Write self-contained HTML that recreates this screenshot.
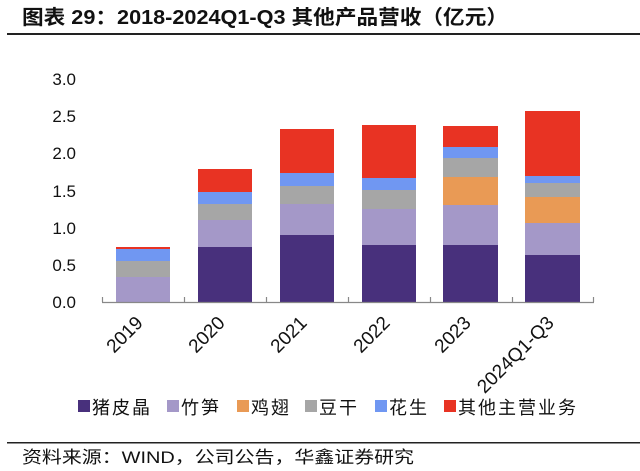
<!DOCTYPE html>
<html><head><meta charset="utf-8"><style>
body{margin:0;background:#fff;}
svg{display:block;font-family:"Liberation Sans","Noto Sans CJK SC",sans-serif;}
</style></head><body>
<svg width="640" height="471" viewBox="0 0 640 471">
<text x="22" y="24" font-size="20" font-weight="bold" fill="#111" textLength="486" lengthAdjust="spacingAndGlyphs">图表 29：2018-2024Q1-Q3 其他产品营收（亿元）</text>
<rect x="7" y="33" width="633" height="2" fill="#222"/>
<g font-size="17" fill="#111" text-anchor="end">
<text x="76" y="85">3.0</text><text x="76" y="122">2.5</text><text x="76" y="159">2.0</text>
<text x="76" y="197">1.5</text><text x="76" y="234">1.0</text><text x="76" y="271">0.5</text><text x="76" y="308">0.0</text>
</g>
<!-- 2019 -->
<rect x="116" y="277" width="54" height="25" fill="#a498c8"/>
<rect x="116" y="261" width="54" height="16" fill="#a6a6a6"/>
<rect x="116" y="249" width="54" height="12" fill="#7097f2"/>
<rect x="116" y="247" width="54" height="2" fill="#e83323"/>
<!-- 2020 -->
<rect x="198" y="247" width="54" height="55" fill="#48307c"/>
<rect x="198" y="220" width="54" height="27" fill="#a498c8"/>
<rect x="198" y="204" width="54" height="16" fill="#a6a6a6"/>
<rect x="198" y="192" width="54" height="12" fill="#7097f2"/>
<rect x="198" y="169" width="54" height="23" fill="#e83323"/>
<!-- 2021 -->
<rect x="280" y="235" width="54" height="67" fill="#48307c"/>
<rect x="280" y="204" width="54" height="31" fill="#a498c8"/>
<rect x="280" y="186" width="54" height="18" fill="#a6a6a6"/>
<rect x="280" y="173" width="54" height="13" fill="#7097f2"/>
<rect x="280" y="129" width="54" height="44" fill="#e83323"/>
<!-- 2022 -->
<rect x="362" y="245" width="54" height="57" fill="#48307c"/>
<rect x="362" y="209" width="54" height="36" fill="#a498c8"/>
<rect x="362" y="190" width="54" height="19" fill="#a6a6a6"/>
<rect x="362" y="178" width="54" height="12" fill="#7097f2"/>
<rect x="362" y="125" width="54" height="53" fill="#e83323"/>
<!-- 2023 -->
<rect x="443" y="245" width="55" height="57" fill="#48307c"/>
<rect x="443" y="205" width="55" height="40" fill="#a498c8"/>
<rect x="443" y="177" width="55" height="28" fill="#e99a55"/>
<rect x="443" y="158" width="55" height="19" fill="#a6a6a6"/>
<rect x="443" y="147" width="55" height="11" fill="#7097f2"/>
<rect x="443" y="126" width="55" height="21" fill="#e83323"/>
<!-- 2024 -->
<rect x="525" y="255" width="55" height="47" fill="#48307c"/>
<rect x="525" y="223" width="55" height="32" fill="#a498c8"/>
<rect x="525" y="197" width="55" height="26" fill="#e99a55"/>
<rect x="525" y="183" width="55" height="14" fill="#a6a6a6"/>
<rect x="525" y="176" width="55" height="7" fill="#7097f2"/>
<rect x="525" y="111" width="55" height="65" fill="#e83323"/>
<g stroke="#888" stroke-width="1.2">
<line x1="102" y1="302.5" x2="594" y2="302.5"/>
<line x1="102.5" y1="297" x2="102.5" y2="302"/><line x1="184.5" y1="297" x2="184.5" y2="302"/>
<line x1="266.5" y1="297" x2="266.5" y2="302"/><line x1="348.5" y1="297" x2="348.5" y2="302"/>
<line x1="430.5" y1="297" x2="430.5" y2="302"/><line x1="512.5" y1="297" x2="512.5" y2="302"/>
<line x1="593.5" y1="297" x2="593.5" y2="302"/>
</g>
<g font-size="19" fill="#111" text-anchor="end">
<text transform="translate(144,324) rotate(-45)">2019</text>
<text transform="translate(226,324) rotate(-45)">2020</text>
<text transform="translate(308,324) rotate(-45)">2021</text>
<text transform="translate(391,324) rotate(-45)">2022</text>
<text transform="translate(472,324) rotate(-45)">2023</text>
<text transform="translate(555,324) rotate(-45)">2024Q1-Q3</text>
</g>
<g font-size="18" fill="#111" letter-spacing="2">
<rect x="78" y="400" width="12" height="12" fill="#48307c"/><text x="92" y="414">猪皮晶</text>
<rect x="167" y="400" width="12" height="12" fill="#a498c8"/><text x="181" y="414">竹笋</text>
<rect x="237" y="400" width="12" height="12" fill="#e99a55"/><text x="251" y="414">鸡翅</text>
<rect x="305" y="400" width="12" height="12" fill="#a6a6a6"/><text x="319" y="414">豆干</text>
<rect x="375" y="400" width="12" height="12" fill="#7097f2"/><text x="389" y="414">花生</text>
<rect x="444" y="400" width="12" height="12" fill="#e83323"/><text x="458" y="414">其他主营业务</text>
</g>
<rect x="7" y="442" width="633" height="1.5" fill="#222"/>
<text x="22" y="463" font-size="17" fill="#111" textLength="392" lengthAdjust="spacingAndGlyphs">资料来源：WIND，公司公告，华鑫证券研究</text>
</svg>
</body></html>
